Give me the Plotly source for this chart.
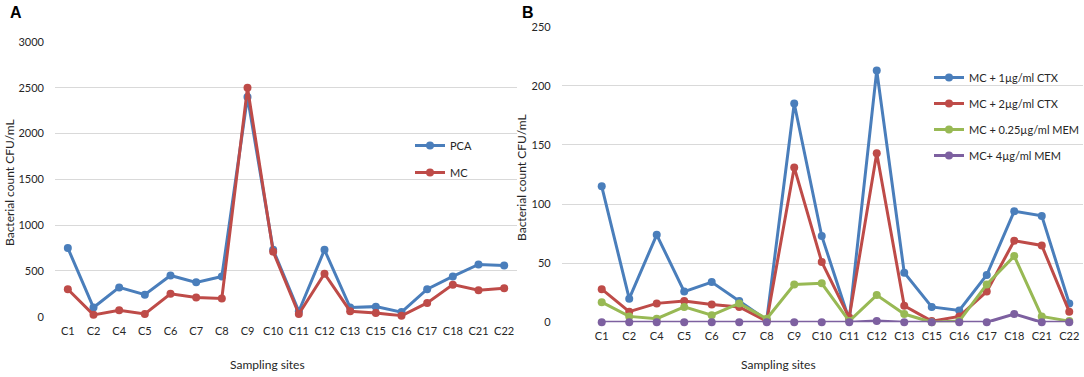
import plotly.graph_objects as go

sites = ["C1", "C2", "C4", "C5", "C6", "C7", "C8", "C9", "C10", "C11", "C12",
         "C13", "C15", "C16", "C17", "C18", "C21", "C22"]

# Panel A
pca = [750, 100, 320, 240, 450, 375, 440, 2400, 730, 60, 730, 100, 110, 50, 300, 440, 570, 560]
mc = [300, 20, 70, 30, 250, 210, 200, 2500, 710, 30, 470, 60, 40, 10, 150, 350, 290, 310]

# Panel B
ctx1 = [115, 20, 74, 26, 34, 18, 2, 185, 73, 2, 213, 42, 13, 10, 40, 94, 90, 16]
ctx2 = [28, 9, 16, 18, 15, 13, 1, 131, 51, 4, 143, 14, 1, 5, 26, 69, 65, 9]
mem025 = [17, 5, 3, 13, 6, 16, 3, 32, 33, 1, 23, 7, 0, 1, 32, 56, 5, 1]
mem4 = [0, 0, 0, 0, 0, 0, 0, 0, 0, 0, 1, 0, 0, 0, 0, 7, 0, 0]

names_a = ["PCA", "MC"]
names_b = ["MC + 1µg/ml CTX", "MC + 2µg/ml CTX", "MC + 0.25µg/ml MEM", "MC+ 4µg/ml MEM"]

BLUE, RED, GREEN, PURPLE = "#4A7EBB", "#BE4B48", "#98B954", "#7D60A0"

W, H = 1084, 377
FONT = "Lato"
TXT = "#262626"

def px_x(v):
    return v / W

def px_y(v):
    return 1 - v / H

fig = go.Figure()

for name, vals, col in zip(names_a, [pca, mc], [BLUE, RED]):
    fig.add_trace(go.Scatter(
        x=sites, y=vals, name=name, mode="lines+markers",
        line=dict(color=col, width=3), marker=dict(color=col, size=8),
        xaxis="x", yaxis="y", legend="legend", legendgroup=name,
        cliponaxis=False))

for name, vals, col in zip(names_b, [ctx1, ctx2, mem025, mem4], [BLUE, RED, GREEN, PURPLE]):
    fig.add_trace(go.Scatter(
        x=sites, y=vals, name=name, mode="lines+markers",
        line=dict(color=col, width=3), marker=dict(color=col, size=8),
        xaxis="x2", yaxis="y2", legend="legend2", legendgroup=name,
        cliponaxis=False))

tickfont = dict(family=FONT, size=11, color=TXT)
common_x = dict(type="category", showgrid=False, zeroline=False, showline=False,
                ticks="", tickfont=tickfont, ticklabelstandoff=6, automargin=False)
common_y = dict(showgrid=True, gridcolor="#D9D9D9", gridwidth=1, zeroline=False,
                showline=False, ticks="", tickfont=tickfont, ticklabelstandoff=10,
                automargin=False)

fig.update_layout(
    template="none",
    width=W, height=H,
    margin=dict(l=0, r=0, t=0, b=0, autoexpand=False),
    paper_bgcolor="white", plot_bgcolor="white",
    font=dict(family=FONT, color=TXT),
    xaxis=dict(common_x, domain=[px_x(55), px_x(517)], range=[-0.5, 17.5], anchor="y"),
    yaxis=dict(common_y, domain=[px_y(316.7), px_y(42)], range=[0, 3000], dtick=500, anchor="x"),
    xaxis2=dict(common_x, domain=[px_x(561.7), px_x(1083)], range=[-1.455, 17.5], anchor="y2"),
    yaxis2=dict(common_y, domain=[px_y(322.3), px_y(26.7)], range=[0, 250], dtick=50, anchor="x2"),
    legend=dict(x=px_x(410), y=px_y(131), xanchor="left", yanchor="top",
                font=dict(family=FONT, size=11, color=TXT),
                bgcolor="rgba(0,0,0,0)", borderwidth=0, tracegroupgap=8),
    legend2=dict(x=px_x(929), y=px_y(63), xanchor="left", yanchor="top",
                 font=dict(family=FONT, size=11, color=TXT),
                 bgcolor="rgba(0,0,0,0)", borderwidth=0, tracegroupgap=7),
    showlegend=True,
)

annots = [
    dict(text="<b>A</b>", x=px_x(16), y=px_y(13), font=dict(family="Liberation Sans", size=16, color="black")),
    dict(text="<b>B</b>", x=px_x(528), y=px_y(13), font=dict(family="Liberation Sans", size=16, color="black")),
    dict(text="Sampling sites", x=px_x(267), y=px_y(364), font=dict(family=FONT, size=12, color=TXT)),
    dict(text="Sampling sites", x=px_x(778), y=px_y(364), font=dict(family=FONT, size=12, color=TXT)),
    dict(text="Bacterial count CFU/mL", x=px_x(9), y=px_y(183), textangle=-90,
         font=dict(family=FONT, size=12, color=TXT)),
    dict(text="Bacterial count CFU/mL", x=px_x(521), y=px_y(178), textangle=-90,
         font=dict(family=FONT, size=12, color=TXT)),
]
for a in annots:
    fig.add_annotation(xref="paper", yref="paper", showarrow=False,
                       xanchor="center", yanchor="middle", **a)

fig.write_html("out.html",
               config={"displayModeBar": False},
               post_script="document.body.style.margin='0px';document.body.style.overflow='hidden';")
